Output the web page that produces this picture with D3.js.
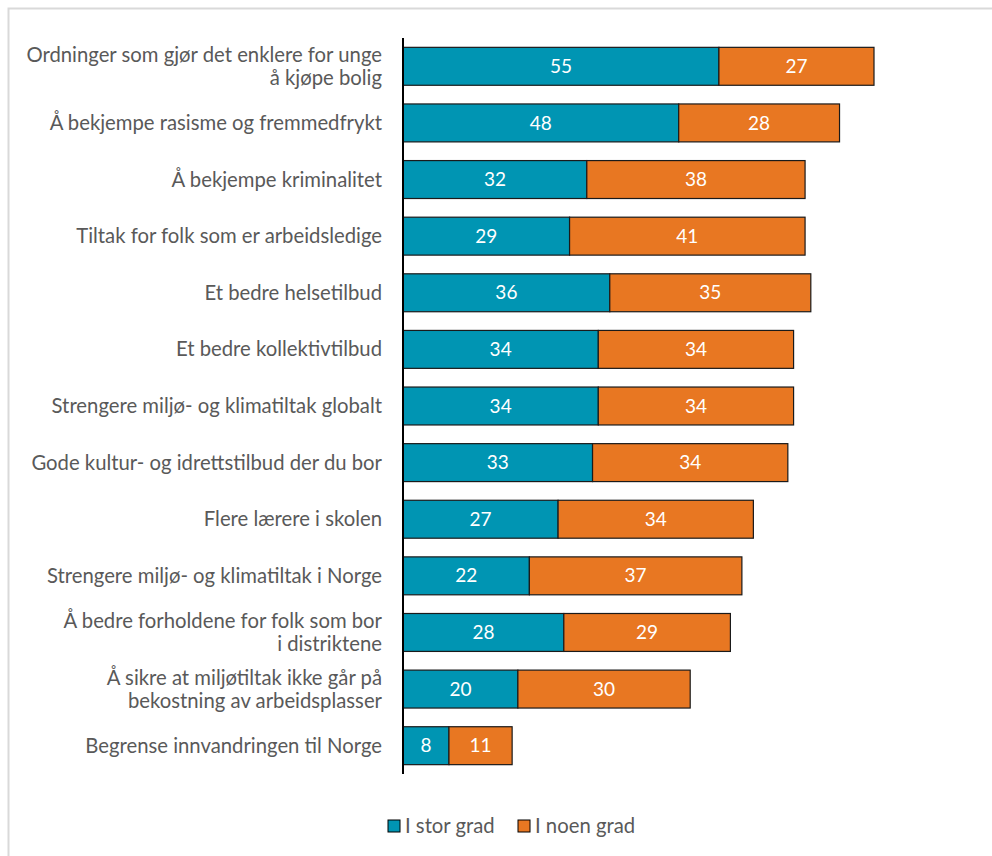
<html>
<head>
    <script src="https://d3js.org/d3.v7.min.js"></script>
    <style>
        body { margin: 0; background: #fff; }
        svg text { font-family: "Source Sans Pro", Lato, "Open Sans", sans-serif; }
    </style>
</head>
<body>
    <svg id="chart"></svg>

    <script>
        var Width = 992, Height = 856;

        var categories = [
            ["Ordninger som gjør det enklere for unge", "å kjøpe bolig"],
            ["Å bekjempe rasisme og fremmedfrykt"],
            ["Å bekjempe kriminalitet"],
            ["Tiltak for folk som er arbeidsledige"],
            ["Et bedre helsetilbud"],
            ["Et bedre kollektivtilbud"],
            ["Strengere miljø- og klimatiltak globalt"],
            ["Gode kultur- og idrettstilbud der du bor"],
            ["Flere lærere i skolen"],
            ["Strengere miljø- og klimatiltak i Norge"],
            ["Å bedre forholdene for folk som bor", "i distriktene"],
            ["Å sikre at miljøtiltak ikke går på", "bekostning av arbeidsplasser"],
            ["Begrense innvandringen til Norge"]
        ];
        var storGrad  = [55, 48, 32, 29, 36, 34, 34, 33, 27, 22, 28, 20, 8];
        var noenGrad  = [27, 28, 38, 41, 35, 34, 34, 34, 34, 37, 29, 30, 11];
        var seriesNames = ["I stor grad", "I noen grad"];
        var colors = ["#0095b3", "#e87722"];

        var svg = d3.select("#chart")
            .attr("width", Width)
            .attr("height", Height);

        // light frame
        svg.append("path")
            .attr("d", "M8.5," + Height + "V8.5H" + Width)
            .attr("fill", "none")
            .attr("stroke", "#d9d9d9")
            .attr("stroke-width", 2);

        var x0 = 403;
        var x = d3.scaleLinear()
            .domain([0, 82])
            .range([x0, 874]);

        var y = d3.scaleBand()
            .domain(d3.range(categories.length))
            .range([38, 774])
            .paddingInner(0.33)
            .paddingOuter(0.165);

        var rows = svg.selectAll("g.row")
            .data(categories)
            .enter()
            .append("g")
                .attr("class", "row")
                .attr("transform", function(d, i){ return "translate(0," + y(i) + ")"; });

        var bh = y.bandwidth();

        rows.each(function(d, i){
            var g = d3.select(this);
            var a = storGrad[i], b = noenGrad[i];
            var segs = [[0, a, colors[0]], [a, a + b, colors[1]]];
            segs.forEach(function(s){
                g.append("rect")
                    .attr("x", x(s[0]))
                    .attr("y", 0)
                    .attr("width", x(s[1]) - x(s[0]))
                    .attr("height", bh)
                    .attr("fill", s[2])
                    .attr("stroke", "#1a1a1a")
                    .attr("stroke-width", 1.2);
                g.append("text")
                    .attr("x", (x(s[0]) + x(s[1])) / 2)
                    .attr("y", bh / 2)
                    .attr("dy", "0.35em")
                    .attr("text-anchor", "middle")
                    .attr("fill", "#fff")
                    .attr("font-size", 19)
                    .text(s[1] - s[0]);
            });

            // category label
            var lines = d;
            var lh = 23;
            var t = g.append("text")
                .attr("text-anchor", "end")
                .attr("fill", "#595959")
                .attr("font-size", 20.3);
            lines.forEach(function(line, k){
                t.append("tspan")
                    .attr("x", 382)
                    .attr("y", bh / 2 + (k - (lines.length - 1) / 2) * lh)
                    .attr("dy", "0.35em")
                    .text(line);
            });
        });

        // axis line
        svg.append("line")
            .attr("x1", x0).attr("x2", x0)
            .attr("y1", 38).attr("y2", 774)
            .attr("stroke", "#000")
            .attr("stroke-width", 2);

        // legend
        var legendX = [388, 518];
        seriesNames.forEach(function(name, i){
            svg.append("rect")
                .attr("x", legendX[i])
                .attr("y", 820)
                .attr("width", 12)
                .attr("height", 12)
                .attr("fill", colors[i])
                .attr("stroke", "#000")
                .attr("stroke-width", 1);
            svg.append("text")
                .attr("x", legendX[i] + 17)
                .attr("y", 826)
                .attr("dy", "0.35em")
                .attr("fill", "#595959")
                .attr("font-size", 20.3)
                .text(name);
        });
    </script>
</body>
</html>
